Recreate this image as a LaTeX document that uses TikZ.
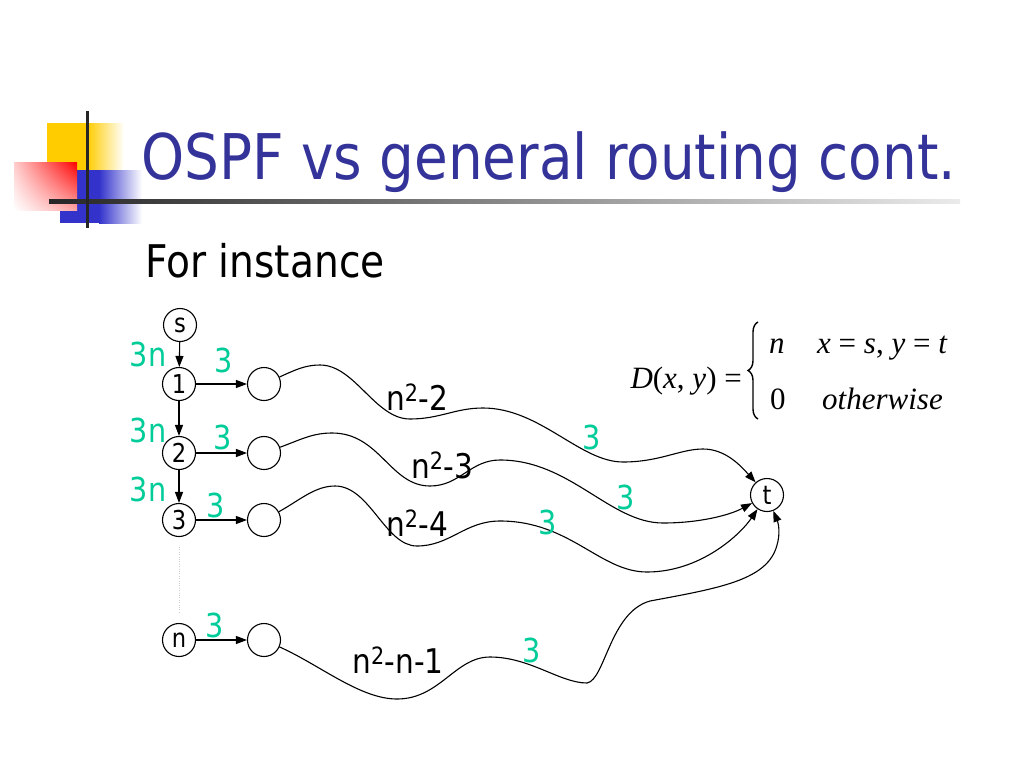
\documentclass[tikz,border=0pt]{standalone}
\usepackage{fontspec}
\setmainfont{DejaVu Sans}[FakeStretch=0.87]
\newfontfamily\formfont{Liberation Serif}
\usepackage{tikz}
\usetikzlibrary{calc,arrows.meta,decorations.pathreplacing,shadings}
\definecolor{titleblue}{RGB}{51,51,153}
\definecolor{wgreen}{RGB}{0,204,153}
\definecolor{logoyellow}{RGB}{255,204,0}
\definecolor{logoblue}{RGB}{51,51,204}

\begin{document}
\begin{tikzpicture}[x=1pt,y=-1pt,
  vert/.style={circle,draw,line width=1.1pt,minimum size=33pt,inner sep=0pt,font=\fontsize{26}{26}\selectfont},
  wt/.style={text=wgreen,font=\fontsize{33}{33}\selectfont},
  len/.style={font=\fontsize{34}{34}\selectfont},
  edge/.style={line width=1.1pt,-{Triangle[length=11pt,width=8pt]}},
  form/.style={font=\formfont\fontsize{31}{31}\selectfont,inner sep=0pt}]
\useasboundingbox (0,0) rectangle (1024,768);
\fill[white] (0,0) rectangle (1024,768);

\fill[logoyellow] (47,123) rectangle (88,170);
\shade[left color=logoyellow,right color=white] (87,123) rectangle (124,170);
\fill[logoblue] (60,170) rectangle (100,223);
\shade[left color=logoblue,right color=white] (99,170) rectangle (142,223);
\shade[upper left=red!20,upper right=red,lower left=white,lower right=red!35] (14,162) rectangle (77,210);
\shade[left color=black!85,right color=black!8] (49,199) rectangle (960,203);
\fill[black!85] (85.5,111) rectangle (88.5,228);

\node[anchor=base west,text=titleblue,font=\fontsize{63}{63}\selectfont,inner sep=0pt] (title) at (141,179) {OSPF vs general routing cont.};
\node[anchor=base west,font=\fontsize{45}{45}\selectfont,inner sep=0pt] (intro) at (145,277) {For instance};

\node[vert] (s) at (180,325) {s};
\node[vert] (v1) at (179,384) {1};
\node[vert] (v2) at (179,453) {2};
\node[vert] (v3) at (179,520) {3};
\node[vert] (vn) at (179,640) {n};
\node[vert] (e1) at (264,384) {};
\node[vert] (e2) at (264,453) {};
\node[vert] (e3) at (264,520) {};
\node[vert] (en) at (264,640) {};
\node[vert] (t) at (767,495) {t};

\draw[edge] (s) -- (v1);
\draw[edge] (v1) -- (v2);
\draw[edge] (v2) -- (v3);
\foreach \a/\b in {v1/e1,v2/e2,v3/e3,vn/en} \draw[edge] (\a) -- (\b);
\draw[dotted,gray!40,shorten <=10pt,shorten >=10pt] (v3) -- (vn);

\node[wt] (w1) at (148,354) {3n};
\node[wt] (w2) at (148,430) {3n};
\node[wt] (w3) at (148,489) {3n};
\node[wt] (x1) at (224,360) {3};
\node[wt] (x2) at (223,437) {3};
\node[wt] (x3) at (216,505) {3};
\node[wt] (xn) at (215,625) {3};

\draw[edge] (e1) .. controls (295,370) and (305,365) .. (320,365)
  .. controls (355,365) and (375,419) .. (410,419)
  .. controls (440,419) and (455,408) .. (483,408)
  .. controls (540,408) and (580,462) .. (623,462)
  .. controls (660,462) and (680,449) .. (703,449)
  .. controls (725,449) and (740,465) .. (t);
\draw[edge] (e2) .. controls (300,440) and (312,433) .. (332,433)
  .. controls (380,433) and (390,486) .. (430,486)
  .. controls (460,486) and (470,460) .. (500,460)
  .. controls (570,460) and (610,523) .. (663,523)
  .. controls (700,523) and (730,515) .. (t);
\draw[edge] (e3) .. controls (300,500) and (315,486) .. (335,486)
  .. controls (370,486) and (385,546) .. (417,546)
  .. controls (450,546) and (465,521) .. (500,521)
  .. controls (570,521) and (600,572) .. (647,572)
  .. controls (700,572) and (740,535) .. (t);
\draw[edge] (en) .. controls (320,665) and (360,699) .. (397,699)
  .. controls (440,699) and (455,657) .. (490,657)
  .. controls (530,657) and (560,683) .. (587,683)
  .. controls (605,680) and (610,612) .. (650,601)
  .. controls (720,588) and (768,580) .. (777,545)
  .. controls (780,535) and (779,525) .. (t);

\node[len] (l1) at (417,397) {n\textsuperscript{2}-2};
\node[len] (l2) at (442,465) {n\textsuperscript{2}-3};
\node[len] (l3) at (417,523) {n\textsuperscript{2}-4};
\node[len] (ln) at (398,660) {n\textsuperscript{2}-n-1};
\node[wt] (y1) at (592,437) {3};
\node[wt] (y2) at (626,497) {3};
\node[wt] (y3) at (548,522) {3};
\node[wt] (yn) at (532,650) {3};

\node[form,anchor=base east] (lhs) at (742,388) {\textit{D}(\textit{x}, \textit{y}) =};
\draw[decorate,decoration={brace,amplitude=10pt},line width=1.4pt] (758,419) -- (758,322);
\node[form,anchor=base west] (c1) at (769,353) {\textit{n}};
\node[form,anchor=base west] (k1) at (817,353) {\textit{x} = \textit{s}, \textit{y} = \textit{t}};
\node[form,anchor=base west] (c2) at (770,409) {0};
\node[form,anchor=base west] (k2) at (822,409) {\textit{otherwise}};
\end{tikzpicture}
\end{document}
